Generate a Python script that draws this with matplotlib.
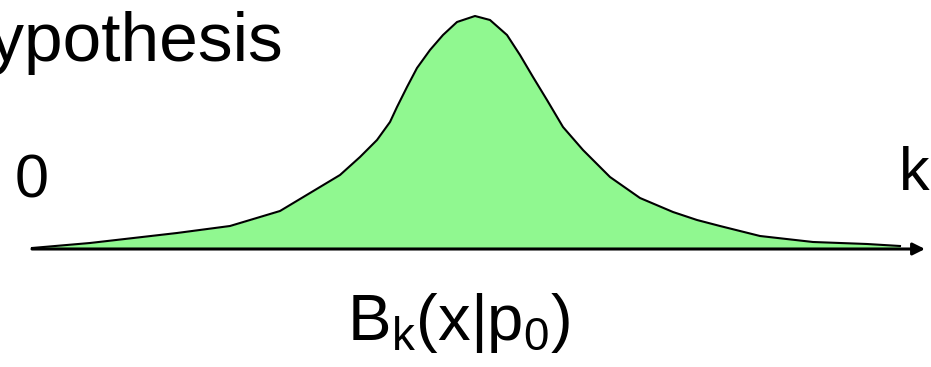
import numpy as np
import matplotlib.pyplot as plt

plt.rcParams['font.family'] = ['Liberation Sans', 'DejaVu Sans']
plt.rcParams['mathtext.fontset'] = 'custom'
plt.rcParams['mathtext.rm'] = 'Liberation Sans'
plt.rcParams['mathtext.it'] = 'Liberation Sans'

# curve: position along the k axis and height above it
k = [32, 90, 177, 230, 250, 280, 310, 340, 360, 377, 390, 397, 407, 417,
     430, 443, 457, 475, 490, 507, 520, 533, 547, 563, 583, 610, 640, 673,
     697, 720, 760, 813, 867, 900]
dens = [0, 5, 15, 22, 28, 37, 55, 73, 91, 108, 126, 141, 161, 180,
        198, 213, 226, 232, 228, 213, 193, 171, 148, 121, 98, 71, 50, 36,
        28, 22, 12, 6, 4, 2]

baseline = 248
y = [baseline - d for d in dens]

fig = plt.figure(figsize=(9.31, 3.67), dpi=100)
ax = fig.add_axes([0, 0, 1, 1])
ax.set_xlim(0, 931)
ax.set_ylim(367, 0)
ax.axis('off')

ax.fill_between(k, y, baseline, color='#90F890', lw=0)
ax.plot(k, y, color='black', lw=1.5, solid_joinstyle='round')

# k axis with arrow
ax.annotate('', xy=(925, baseline + 1), xytext=(32, baseline + 1),
            arrowprops=dict(arrowstyle='-|>', color='black', lw=2.2,
                            mutation_scale=18, shrinkA=0, shrinkB=0))

# the title runs off the left edge in the reference, as here
ax.text(283, 61, 'Hypothesis', fontsize=50, ha='right', va='baseline')
ax.text(15, 197, '0', fontsize=44, ha='left', va='baseline')
ax.text(899, 190, 'k', fontsize=44, ha='left', va='baseline')
ax.text(459, 340, r'$\mathregular{B_k(x|p_0)}$', fontsize=47,
        ha='center', va='baseline')

fig.savefig('out.png', dpi=100)
